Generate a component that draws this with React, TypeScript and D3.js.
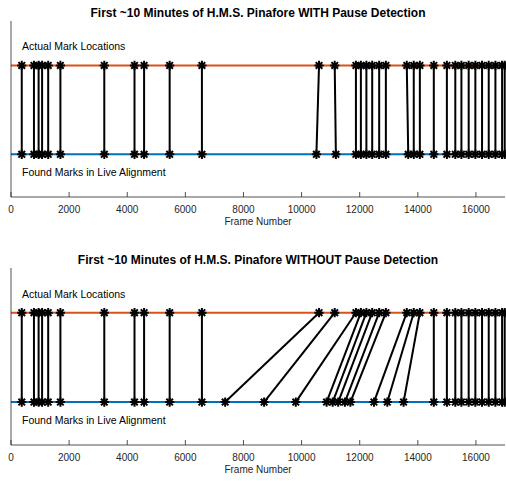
import React from 'react';
import * as d3 from 'd3';

// frame numbers of the real marks (orange line)
const actualMarks = [370, 790, 950, 1070, 1280, 1700, 3210, 4250, 4580, 5460, 6570, 10600, 11140, 11870, 12040, 12230, 12430, 12670, 12900, 13620, 13860, 14070, 14550, 15000, 15290, 15500, 15750, 15980, 16210, 16440, 16670, 16900, 16990];

// marks found by live alignment (blue line)
const foundWithPause = [370, 790, 950, 1070, 1280, 1700, 3210, 4250, 4580, 5460, 6570, 10510, 11180, 11870, 12040, 12230, 12430, 12670, 12900, 13670, 13860, 14070, 14550, 15000, 15290, 15500, 15750, 15980, 16210, 16440, 16670, 16900, 16990];
const foundWithoutPause = [370, 790, 950, 1070, 1280, 1700, 3210, 4250, 4580, 5460, 6570, 7370, 8710, 9800, 10860, 11070, 11260, 11490, 11680, 12490, 12950, 13510, 14550, 15000, 15290, 15500, 15750, 15980, 16210, 16440, 16670, 16900, 16990];

const xTicks = [0, 2000, 4000, 6000, 8000, 10000, 12000, 14000, 16000];

const W = 506;
const H = 481;
const FONT = '"Liberation Sans", Arial, Helvetica, sans-serif';
const AXIS = '#262626';
const ORANGE = '#D95319';
const BLUE = '#0072BD';

const r = 4.6;
const d = 3.3;
const starPath = `M${-r},0L${r},0M0,${-r}L0,${r}M${-d},${-d}L${d},${d}M${-d},${d}L${d},${-d}`;

const x = d3.scaleLinear().domain([0, 17000]).range([11, 505]);

type PanelProps = { top: number; bottom: number; title: string; found: number[] };

const Panel = ({ top, bottom, title, found }: PanelProps) => {
  const y = d3.scaleLinear().domain([-0.48, 1.5]).range([bottom, top]);
  const line = d3.line<[number, number]>().x(p => x(p[0])).y(p => y(p[1]));
  const [x0, x1] = x.range();

  return (
    <g>
      <text x={(x0 + x1) / 2} y={top - 7.5} textAnchor="middle" dominantBaseline="middle"
        fontWeight="bold" fontSize={12} fill="#000">{title}</text>

      <line x1={x0} x2={x1} y1={y(1)} y2={y(1)} stroke={ORANGE} strokeWidth={2} />
      <line x1={x0} x2={x1} y1={y(0)} y2={y(0)} stroke={BLUE} strokeWidth={2} />

      {actualMarks.map((a, i) => (
        <g key={i}>
          <path d={line([[found[i], 0], [a, 1]]) || ''} stroke="#000" strokeWidth={2} fill="none" />
          <path d={starPath} transform={`translate(${x(found[i])},${y(0)})`} stroke="#000" strokeWidth={2} />
          <path d={starPath} transform={`translate(${x(a)},${y(1)})`} stroke="#000" strokeWidth={2} />
        </g>
      ))}

      <text x={x(380)} y={y(1.2)} dominantBaseline="middle" fontSize={10.5} fill="#000">Actual Mark Locations</text>
      <text x={x(380)} y={y(-0.21)} dominantBaseline="middle" fontSize={10.5} fill="#000">Found Marks in Live Alignment</text>

      {/* axes */}
      <line x1={x0} x2={x0} y1={top} y2={bottom} stroke={AXIS} strokeWidth={0.8} />
      <line x1={x0} x2={x1} y1={bottom} y2={bottom} stroke={AXIS} strokeWidth={0.8} />
      {xTicks.map(t => (
        <g key={t}>
          <line x1={x(t)} x2={x(t)} y1={bottom} y2={bottom - 5} stroke={AXIS} strokeWidth={0.8} />
          <text x={x(t)} y={bottom + 13} textAnchor="middle" dominantBaseline="middle" fontSize={10} fill={AXIS}>{t}</text>
        </g>
      ))}
      <text x={(x0 + x1) / 2} y={bottom + 25} textAnchor="middle" dominantBaseline="middle" fontSize={10} fill={AXIS}>Frame Number</text>
    </g>
  );
};

export default function App() {
  return (
    <svg width={W} height={H} style={{ position: 'absolute', left: 0, top: 0, background: '#fff' }} fontFamily={FONT}>
      <rect width={W} height={H} fill="#fff" />
      <Panel top={21} bottom={197} title="First ~10 Minutes of H.M.S. Pinafore WITH Pause Detection" found={foundWithPause} />
      <Panel top={268} bottom={445} title="First ~10 Minutes of H.M.S. Pinafore WITHOUT Pause Detection" found={foundWithoutPause} />
    </svg>
  );
}
